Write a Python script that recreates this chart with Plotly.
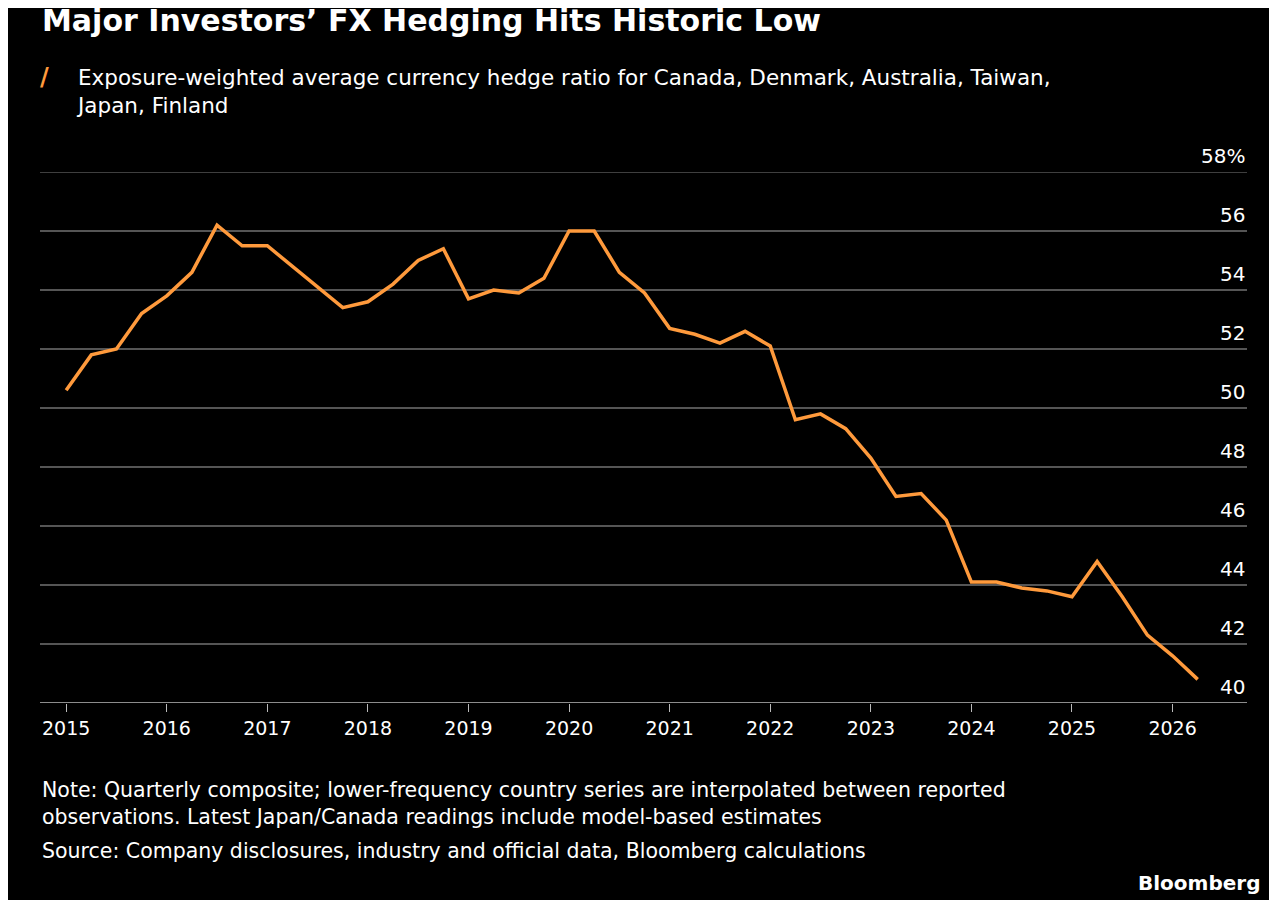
import plotly.graph_objects as go

quarters = [2015 + i * 0.25 for i in range(46)]
hedge_ratio = [50.6, 51.8, 52.0, 53.2, 53.8, 54.6, 56.2, 55.5, 55.5, 54.8, 54.1, 53.4,
               53.6, 54.2, 55.0, 55.4, 53.7, 54.0, 53.9, 54.4, 56.0, 56.0, 54.6, 53.9,
               52.7, 52.5, 52.2, 52.6, 52.1, 49.6, 49.8, 49.3, 48.3, 47.0, 47.1, 46.2,
               44.1, 44.1, 43.9, 43.8, 43.6, 44.8, 43.6, 42.3, 41.6, 40.8]
year_ticks = list(range(2015, 2027))
y_ticks = list(range(40, 59, 2))

F = "DejaVu Sans, sans-serif"
OFF = 8
L, R, T, B = 40 - OFF, 1277 - (1247 - OFF), 172 - OFF, 900 - (703 - OFF)
fig = go.Figure()
fig.add_trace(go.Scatter(x=quarters, y=hedge_ratio, mode="lines",
                         line=dict(color="#ff9a3c", width=3.5), hoverinfo="skip"))

fig.update_layout(
    width=1277, height=900, paper_bgcolor="black", plot_bgcolor="black",
    margin=dict(l=L, r=R, t=T, b=B), showlegend=False,
    font=dict(family=F, color="white", size=19),
    xaxis=dict(range=[2014.74, 2026.74], tickvals=year_ticks, ticktext=[str(y) for y in year_ticks],
               showgrid=False, ticks="outside", ticklen=8, tickcolor="#bbbbbb",
               showline=False, zeroline=False, tickfont=dict(size=19, color="white", family=F)),
    yaxis=dict(range=[40, 58], tickvals=y_ticks, showticklabels=False, gridcolor="#555555",
               gridwidth=1.5, zeroline=False, showline=False),
)
fig.add_hline(y=58, line=dict(color="#555555", width=1.5))
fig.add_hline(y=40, line=dict(color="#bbbbbb", width=1.5))
for v in y_ticks:
    fig.add_annotation(x=1, xref="paper", y=v, yref="y", text=f"{v}%" if v == 58 else str(v),
                       xanchor="right", yanchor="bottom", showarrow=False, yshift=2,
                       font=dict(size=20, color="white", family=F))

W = 1277 - L - R
H = 900 - T - B
def ann_px(xpx, ypx, txt, size, anchor="left"):
    px = (xpx - OFF - L) / W
    py = (900 - B - (ypx - OFF)) / H
    fig.add_annotation(x=px, y=py, xref="paper", yref="paper", text=txt,
                       xanchor=anchor, yanchor="middle", showarrow=False, align="left",
                       font=dict(size=size, color="white", family=F))

ann_px(40, 21, "<b>Major Investors’ FX Hedging Hits Historic Low</b>", 30)
ann_px(38, 77, "<span style='color:#ff9a3c'><b>/</b></span>", 24)
ann_px(74, 92, "Exposure-weighted average currency hedge ratio for Canada, Denmark, Australia, Taiwan,<br>Japan, Finland", 21.5)
ann_px(40, 803, "Note: Quarterly composite; lower-frequency country series are interpolated between reported<br>observations. Latest Japan/Canada readings include model-based estimates", 20.5)
ann_px(40, 851, "Source: Company disclosures, industry and official data, Bloomberg calculations", 20.5)
ann_px(1262, 883, "<b>Bloomberg</b>", 20, anchor="right")

fig.write_html("out.html")
